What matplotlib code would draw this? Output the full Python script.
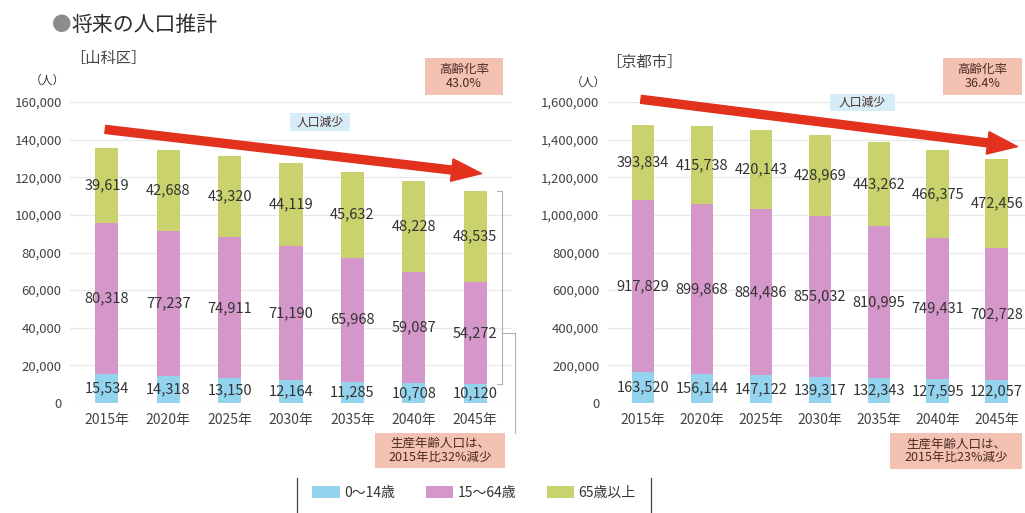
import matplotlib
matplotlib.use("Agg")
import matplotlib.pyplot as plt
from matplotlib.patches import FancyArrowPatch, Patch
from matplotlib.lines import Line2D
from matplotlib.ticker import FuncFormatter

plt.rcParams['font.family'] = ['Noto Sans CJK JP', 'DejaVu Sans']

# ---- data ----
years = ["2015年", "2020年", "2025年", "2030年", "2035年", "2040年", "2045年"]

yamashina_young = [15534, 14318, 13150, 12164, 11285, 10708, 10120]
yamashina_working = [80318, 77237, 74911, 71190, 65968, 59087, 54272]
yamashina_elderly = [39619, 42688, 43320, 44119, 45632, 48228, 48535]

kyoto_young = [163520, 156144, 147122, 139317, 132343, 127595, 122057]
kyoto_working = [917829, 899868, 884486, 855032, 810995, 749431, 702728]
kyoto_elderly = [393834, 415738, 420143, 428969, 443262, 466375, 472456]

yamashina_ticks = [0, 20000, 40000, 60000, 80000, 100000, 120000, 140000, 160000]
kyoto_ticks = [0, 200000, 400000, 600000, 800000, 1000000, 1200000, 1400000, 1600000]

legend_labels = ["0～14歳", "15～64歳", "65歳以上"]

# ---- style ----
C_YOUNG = "#93d3ee"
C_WORK = "#d597c9"
C_OLD = "#c9d26c"
C_TEXT = "#333333"
C_BOX = "#f4c2b2"
C_BLUEBOX = "#d6edf8"
C_ARROW = "#e2321e"

W, H = 1025, 513
fig = plt.figure(figsize=(W / 100, H / 100), dpi=100)
fig.patch.set_facecolor("white")


def fx(x):
    return x / W


def fy(y):
    return 1 - y / H


def ftext(x, y, s, **kw):
    fig.text(fx(x), fy(y), s, **kw)


def draw_stacked(ax, young, working, elderly, ticks):
    x = list(range(len(years)))
    width = 0.38
    bottoms2 = [a + b for a, b in zip(young, working)]
    ax.bar(x, young, width, color=C_YOUNG, zorder=2)
    ax.bar(x, working, width, bottom=young, color=C_WORK, zorder=2)
    ax.bar(x, elderly, width, bottom=bottoms2, color=C_OLD, zorder=2)
    for i in x:
        ax.text(i, young[i] / 2, f"{young[i]:,}", ha="center", va="center",
                fontsize=10.5, color=C_TEXT, zorder=3)
        ax.text(i, young[i] + working[i] / 2, f"{working[i]:,}", ha="center",
                va="center", fontsize=10.5, color=C_TEXT, zorder=3)
        ax.text(i, bottoms2[i] + elderly[i] / 2, f"{elderly[i]:,}", ha="center",
                va="center", fontsize=10.5, color=C_TEXT, zorder=3)
    ax.set_xlim(-0.6, 6.6)
    ax.set_ylim(ticks[0], ticks[-1])
    ax.set_yticks(ticks)
    ax.yaxis.set_major_formatter(FuncFormatter(lambda v, p: f"{int(v):,}"))
    ax.set_xticks(x)
    ax.set_xticklabels(years)
    ax.tick_params(axis="both", length=0, labelsize=9.5, labelcolor="#444444")
    ax.tick_params(axis="x", pad=7, labelsize=10)
    ax.tick_params(axis="y", pad=6)
    for s in ax.spines.values():
        s.set_visible(False)
    ax.grid(axis="y", color="#e8e8e8", linewidth=0.9, zorder=0)
    ax.set_axisbelow(True)
    ax.patch.set_alpha(0)


def draw_arrow(ax, start, end):
    arr = FancyArrowPatch(start, end, transform=ax.transData,
                          arrowstyle="simple,head_length=1.2,head_width=0.9,tail_width=0.32",
                          mutation_scale=18, color=C_ARROW, clip_on=False, zorder=4)
    ax.add_patch(arr)


# ---- left: 山科区 ----
ax1 = fig.add_axes([fx(70), fy(403), fx(442), 301 / H])
draw_stacked(ax1, yamashina_young, yamashina_working, yamashina_elderly, yamashina_ticks)
draw_arrow(ax1, (-0.07, 145600), (6.15, 121800))

# ---- right: 京都市 ----
ax2 = fig.add_axes([fx(607.6), fy(403), fx(424.4), 301 / H])
draw_stacked(ax2, kyoto_young, kyoto_working, kyoto_elderly, kyoto_ticks)
draw_arrow(ax2, (-0.08, 1616000), (6.4, 1361000))

# ---- titles ----
ftext(52, 25, "●", fontsize=14, color="#8c8c8c", va="center", ha="left")
ftext(71, 25, "将来の人口推計", fontsize=15, color="#2e2e2e", va="center", ha="left")
ftext(70, 59, "［山科区］", fontsize=11, color="#444444", va="center", ha="left")
ftext(606, 62, "［京都市］", fontsize=11, color="#444444", va="center", ha="left")
ftext(47, 80, "（人）", fontsize=8.5, color=C_TEXT, va="center", ha="center")
ftext(588, 82, "（人）", fontsize=8.5, color=C_TEXT, va="center", ha="center")


def box(x0, y0, x1, y1, s, color, fs=9):
    r = plt.Rectangle((fx(x0), fy(y1)), fx(x1 - x0), (y1 - y0) / H,
                      transform=fig.transFigure, facecolor=color, edgecolor="none",
                      zorder=5)
    fig.add_artist(r)
    fig.text(fx((x0 + x1) / 2), fy((y0 + y1) / 2), s, ha="center", va="center",
             fontsize=fs, color="#4a2a22", linespacing=1.05, zorder=6)


box(425, 58, 503, 95, "高齢化率\n43.0%", C_BOX)
box(943, 58, 1022, 95, "高齢化率\n36.4%", C_BOX)
box(290, 113, 350, 131, "人口減少", C_BLUEBOX, fs=8.5)
box(830, 94, 895, 111, "人口減少", C_BLUEBOX, fs=8.5)
box(375, 433, 505, 468, "生産年齢人口は、\n2015年比32%減少", C_BOX)
box(890, 433, 1022, 469, "生産年齢人口は、\n2015年比23%減少", C_BOX)

# bracket beside the last left bar
for seg in [((502, 502), (191, 384)), ((497, 502), (191, 191)), ((497, 502), (384, 384)),
            ((502, 515), (333, 333)), ((515, 515), (333, 433))]:
    fig.add_artist(Line2D([fx(v) for v in seg[0]], [fy(v) for v in seg[1]],
                          color="#b0b0b0", linewidth=0.8))

# ---- legend ----
handles = [Patch(facecolor=c, edgecolor="none") for c in (C_YOUNG, C_WORK, C_OLD)]
fig.legend(handles, legend_labels, loc="center", bbox_to_anchor=(fx(474), fy(493)),
           ncol=3, frameon=False, fontsize=10, handlelength=2.0, handleheight=0.9,
           columnspacing=2.2, handletextpad=0.3, labelcolor=C_TEXT)
for xv in (297, 651):
    fig.add_artist(Line2D([fx(xv), fx(xv)], [fy(478), fy(513)], color="#444444",
                          linewidth=0.9))

fig.savefig("out.png", dpi=100)
